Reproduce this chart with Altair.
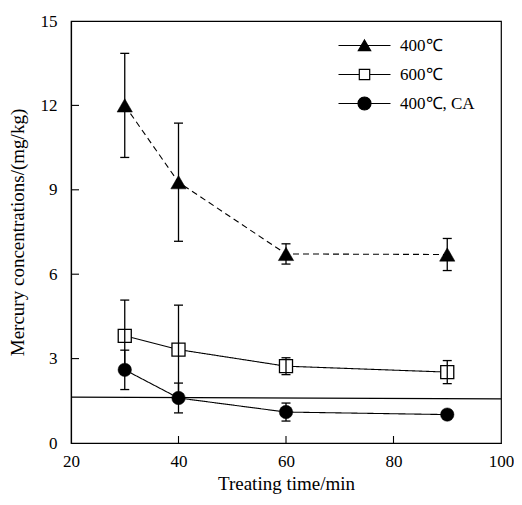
import altair as alt
import pandas as pd

# ---- data ----
times = [30, 40, 60, 90]
series_names = ["400℃", "600℃", "400℃, CA"]
vals_400 = [12.0, 9.27, 6.72, 6.70]
errs_400 = [1.85, 2.10, 0.36, 0.57]
vals_600 = [3.81, 3.32, 2.73, 2.52]
errs_600 = [1.27, 1.58, 0.30, 0.41]
vals_ca = [2.60, 1.60, 1.10, 1.01]
errs_ca = [0.70, 0.53, 0.32, 0.0]
ref_x = [20, 100]
ref_y = [1.63, 1.57]
x_tick_values = [20, 40, 60, 80, 100]
y_tick_values = [0, 3, 6, 9, 12, 15]
x_inner_ticks = [40, 60, 80]
y_inner_ticks = [3, 6, 9, 12]

rows = []
for name, vals, errs in zip(series_names, [vals_400, vals_600, vals_ca],
                            [errs_400, errs_600, errs_ca]):
    for t, v, e in zip(times, vals, errs):
        rows.append({"series": name, "time": t, "value": v, "lo": v - e, "hi": v + e})
df = pd.DataFrame(rows)
ref_df = pd.DataFrame({"time": ref_x, "value": ref_y})
xt_df = pd.DataFrame({"time": x_inner_ticks, "value": [0] * len(x_inner_ticks)})
yt_df = pd.DataFrame({"time": [20] * len(y_inner_ticks), "value": y_inner_ticks})

FONT = "Liberation Serif"
xscale = alt.Scale(domain=[20, 100], nice=False, zero=False)
yscale = alt.Scale(domain=[0, 15], nice=False)
xaxis = alt.Axis(values=x_tick_values, title="Treating time/min", labelPadding=10,
                 titlePadding=5, labelFlush=False, labelOverlap=False)
yaxis = alt.Axis(values=y_tick_values, title="Mercury concentrations/(mg/kg)",
                 labelPadding=14, titlePadding=13, labelFlush=False, labelOverlap=False)


def X(field="time"):
    return alt.X(f"{field}:Q", scale=xscale, axis=xaxis)


def Y(field="value"):
    return alt.Y(f"{field}:Q", scale=yscale, axis=yaxis)


base = alt.Chart(df)
layers = []

# reference horizontal line
layers.append(alt.Chart(ref_df).mark_line(color="black", strokeWidth=1.2)
              .encode(x=X(), y=Y()))

# connecting lines
dashes = {"400℃": [6, 4], "600℃": [1, 0], "400℃, CA": [1, 0]}
for name in series_names:
    layers.append(base.transform_filter(alt.datum.series == name)
                  .mark_line(color="black", strokeWidth=1.1, strokeDash=dashes[name])
                  .encode(x=X(), y=Y()))

# triangles and squares
layers.append(base.transform_filter(alt.datum.series == series_names[0])
              .mark_point(shape="triangle-up", size=235, filled=True, fill="black",
                          stroke="black", strokeWidth=0.5, opacity=1)
              .encode(x=X(), y=Y()))
layers.append(base.transform_filter(alt.datum.series == series_names[1])
              .mark_point(shape="square", size=170, filled=True, fill="white",
                          stroke="black", strokeWidth=1.3, opacity=1)
              .encode(x=X(), y=Y()))

# error bars
layers.append(base.mark_rule(color="black", strokeWidth=1.3)
              .encode(x=X(), y=Y("lo"), y2="hi:Q"))
for f in ["lo", "hi"]:
    layers.append(base.mark_tick(orient="horizontal", size=9, thickness=1.3,
                                 color="black", opacity=1)
                  .encode(x=X(), y=Y(f)))

# circles on top
layers.append(base.transform_filter(alt.datum.series == series_names[2])
              .mark_point(shape="circle", size=180, filled=True, fill="black",
                          stroke="black", strokeWidth=0.5, opacity=1)
              .encode(x=X(), y=Y()))

# inward axis ticks
layers.append(alt.Chart(xt_df).mark_tick(orient="vertical", size=14, thickness=1.1,
                                         color="black", opacity=1, clip=True)
              .encode(x=X(), y=Y()))
layers.append(alt.Chart(yt_df).mark_tick(orient="horizontal", size=16, thickness=1.1,
                                         color="black", opacity=1, clip=True)
              .encode(x=X(), y=Y()))

# legend layer (invisible marks, legend symbols = line + marker)
legend_paths = [
    "M-4,0H4M0,-0.85L0.95,0.8L-0.95,0.8Z",
    "M-4,0H-0.8M0.8,0H4M-0.8,-0.8H0.8V0.8H-0.8Z",
    "M-4,0H-1M1,0H4M1,0A1,1,0,1,1,-1,0A1,1,0,1,1,1,0Z",
]
leg = alt.Legend(title=None, orient="none", legendX=285, legendY=16,
                 labelFont=FONT, labelFontSize=17, labelColor="black",
                 symbolSize=169, symbolStrokeWidth=1.2, labelOffset=27,
                 rowPadding=11, padding=0)
layers.append(base.mark_point(size=0, filled=True, stroke="black", strokeWidth=1.2, opacity=1)
              .encode(x=X(), y=Y(),
                      shape=alt.Shape("series:N", scale=alt.Scale(domain=series_names, range=legend_paths),
                                      legend=leg, sort=series_names),
                      fill=alt.Fill("series:N", scale=alt.Scale(domain=series_names,
                                                                range=["black", "white", "black"]),
                                    legend=leg, sort=series_names)))

chart = (alt.layer(*layers)
         .properties(width=430, height=422,
                     autosize=alt.AutoSizeParams(type="none"),
                     padding={"left": 63, "top": 13, "right": 13, "bottom": 52})
         .configure_view(stroke="black", strokeWidth=1.2)
         .configure_axis(domainColor="black", domainWidth=1.2, grid=False, ticks=False, tickSize=0,
                         labelFont=FONT, titleFont=FONT, labelFontSize=17, titleFontSize=19,
                         labelColor="black", titleColor="black", titleFontWeight="normal"))

chart.save("out.html", embed_options={"renderer": "svg", "actions": False})
